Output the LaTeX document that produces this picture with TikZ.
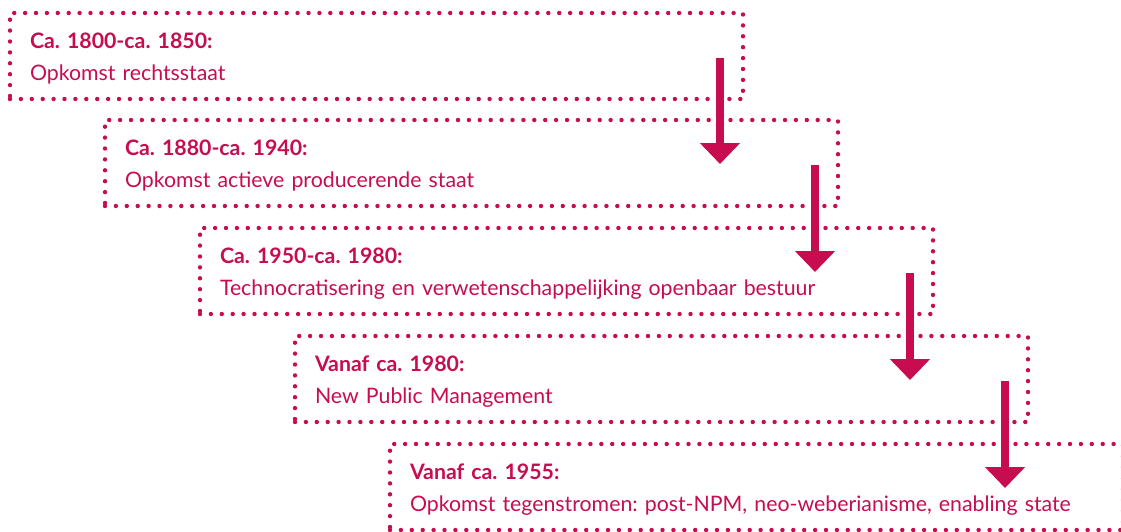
\documentclass[tikz,border=0pt]{standalone}
\usepackage{fontspec}
\setmainfont{Lato}
\usetikzlibrary{positioning}
\usetikzlibrary{arrows.meta}
\definecolor{tijdrood}{RGB}{199,12,80}
\frenchspacing

\begin{document}
\begin{tikzpicture}[x=1pt, y=-1pt]
    \tikzset{
    periode/.style=
    {
        draw=tijdrood,
        line width=4.4pt,
        line cap=round,
        dash pattern=on 0pt off 10.9pt,
        minimum width=733pt,
        minimum height=86pt,
        text width=693pt,
        inner xsep=20pt,
        inner ysep=0pt,
        outer sep=0pt,
        align=left,
        text=tijdrood,
        font=\fontsize{21.3}{32}\selectfont,
        execute at begin node=\rule{0pt}{21.5pt}
    },
    pijl/.style=
    {
        draw=tijdrood,
        line width=8pt,
        -{Triangle[width=39pt,length=21pt]}
    }
}
  \useasboundingbox (0,0) rectangle (1121,532);

  \node[periode, anchor=north west] (P1) at (10,13)
    {\textbf{Ca. 1800-ca. 1850:}\\Opkomst rechtsstaat};
  \node[periode, below right=107pt and 95pt of P1.north west] (P2)
    {\textbf{Ca. 1880-ca. 1940:}\\Opkomst actieve producerende staat};
  \node[periode, below right=108pt and 95pt of P2.north west] (P3)
    {\textbf{Ca. 1950-ca. 1980:}\\Technocratisering en verwetenschappelijking openbaar bestuur};
  \node[periode, below right=108pt and 95pt of P3.north west] (P4)
    {\textbf{Vanaf ca. 1980:}\\New Public Management};
  \node[periode, minimum width=729pt, below right=108pt and 95pt of P4.north west] (P5)
    {\textbf{Vanaf ca. 1955:}\\Opkomst tegenstromen: post-NPM, neo-weberianisme, enabling state};

  \foreach \a/\b in {P1/P2, P2/P3, P3/P4, P4/P5}
    \draw[pijl] ([xshift=-23pt,yshift=-45pt]\a.north east) -- ([xshift=-118pt,yshift=-44pt]\b.north east);

\end{tikzpicture}
\end{document}
